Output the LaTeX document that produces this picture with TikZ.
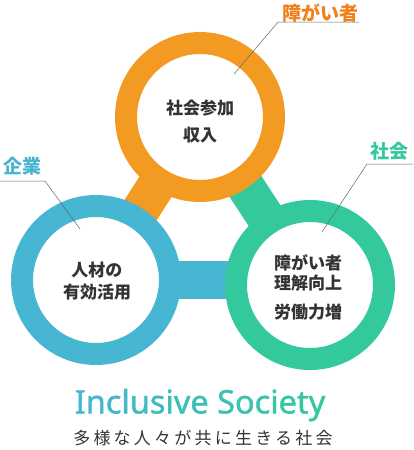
\documentclass[tikz,border=0pt]{standalone}
\usepackage{fontspec}
\usepackage{tikz}
\newfontfamily\jpfont{Noto Sans CJK JP}
\newfontfamily\jpwide{Noto Sans CJK JP}[LetterSpace=19]
\newfontfamily\latinfont{Noto Sans}[FakeBold=1.3]
\definecolor{ringorange}{RGB}{243, 154, 34}
\definecolor{labelorange}{RGB}{240, 128, 26}
\definecolor{ringblue}{RGB}{70, 182, 210}
\definecolor{ringgreen}{RGB}{52, 201, 156}
\definecolor{darktext}{RGB}{51, 51, 51}
\definecolor{leadergray}{RGB}{102, 102, 102}
\newcommand{\gl}[2]{\textcolor{ringgreen!#1!ringblue}{#2}}

\begin{document}
\begin{tikzpicture}[x=1pt, y=-1pt,
		ring/.style={circle, draw=#1, line width=22pt, fill=white, minimum size=148pt, inner sep=0pt},
		bar/.style={#1, line width=38pt},
		ringtext/.style={text=darktext, font=\jpfont\bfseries\fontsize{17}{20}\selectfont, align=center},
		tag/.style={text=#1, font=\jpfont\bfseries\fontsize{19}{22}\selectfont},
		leader/.style={leadergray, line width=0.5pt}]
	\useasboundingbox (0,0) rectangle (413,450);
	\coordinate (oc) at (200,117);
	\coordinate (bc) at (96,280);
	\coordinate (gc) at (310,285);
	% bars under the rings
	\draw[bar=ringorange] (oc) -- (bc);
	\draw[bar=ringgreen] (oc) -- (gc);
	\draw[bar=ringblue] (bc) -- (bc -| gc);
	% rings
	\node[ring=ringorange] (oring) at (oc) {};
	\node[ring=ringblue] (bring) at (bc) {};
	\node[ring=ringgreen] (gring) at (gc) {};
	\node[ringtext] (otext) at (200,122) {社会参加\\[7pt]収入};
	\node[ringtext] (btext) at (97,281) {人材の\\[2pt]有効活用};
	\node[ringtext] (gtext) at (308,287) {障がい者\\理解向上\\[9pt]労働力増};
	% tags with leader lines
	\node[tag=labelorange] (otag) at (320,13) {障がい者};
	\node[tag=ringgreen] (gtag) at (389,151) {社会};
	\node[tag=ringblue] (btag) at (23,166) {企業};
	\coordinate (okink) at (278,22);
	\coordinate (oend) at (359,22);
	\coordinate (otip) at (234,74);
	\coordinate (gkink) at (367,164);
	\coordinate (gend) at (413,164);
	\coordinate (gtip) at (322,232);
	\coordinate (bkink) at (45,181);
	\coordinate (bend) at (0,181);
	\coordinate (btip) at (80,229);
	\draw[leader] (oend) -- (okink) -- (otip);
	\draw[leader] (gend) -- (gkink) -- (gtip);
	\draw[leader] (bend) -- (bkink) -- (btip);
	% title
	\node[font=\latinfont\fontsize{32.5}{36}\selectfont] (title) at (200,405) {\gl{0}{I}\gl{7}{n}\gl{13}{c}\gl{20}{l}\gl{27}{u}\gl{33}{s}\gl{40}{i}\gl{47}{v}\gl{53}{e} \gl{60}{S}\gl{67}{o}\gl{73}{c}\gl{80}{i}\gl{87}{e}\gl{93}{t}\gl{100}{y}};
	\node[text=darktext, font=\jpwide\fontsize{17}{20}\selectfont] (subtitle) at (203,438) {多様な人々が共に生きる社会};
\end{tikzpicture}
\end{document}
